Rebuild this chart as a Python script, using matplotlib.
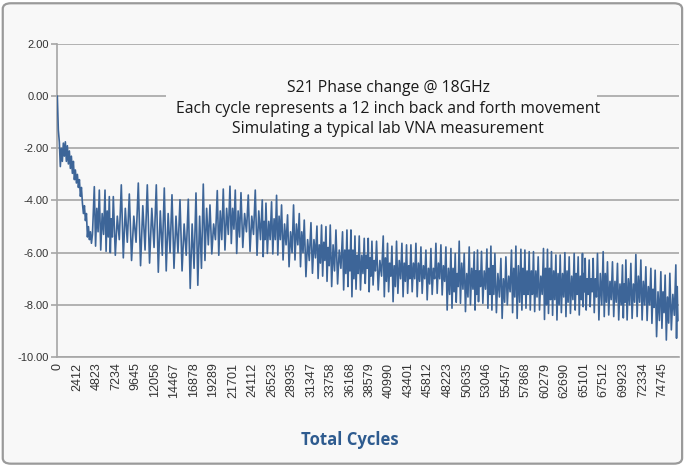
import numpy as np
import matplotlib
matplotlib.use("Agg")
import matplotlib.pyplot as plt
from matplotlib.patches import FancyBboxPatch, Rectangle
import matplotlib.transforms as mtransforms

plt.rcParams['axes.unicode_minus'] = False

# start-up drift, one value per early_step cycles
early_step = 124
early = [0.0, -1.3, -1.75, -2.7, -2.0, -2.5, -1.8, -2.3, -1.75, -2.5, -1.9, -2.6,
         -2.1, -2.77, -2.3, -2.96, -2.5, -3.2, -2.83, -3.33, -3.0, -3.5, -3.2, -3.84,
         -3.5, -4.1, -4.5, -4.2, -4.77, -4.5, -5.4, -5.0, -5.5, -5.2, -5.64, -5.3]

# cycle count at each spike top
peak_cycles = [4570, 5187, 5891, 6422, 6916, 7904, 8892, 10004, 11115, 12227,
               13215, 14165, 15153, 16179, 17129, 18031, 18858, 19760, 20501, 21328,
               21983, 22687, 23589, 24453, 25318,
               25774, 26466, 27084, 27701, 28442, 29183, 29887, 30505, 31332, 32073,
               32641, 33185, 33716, 34420, 35235, 35778, 36272, 36766, 37297, 37915, 38408,
               38865, 39434, 40261, 40792, 41335, 41904, 42570, 43139, 43682, 44300,
               44917, 45535, 46152, 46769, 47387, 48004, 48622, 49153, 49647, 50265,
               50882, 51500, 51907,
               52401, 53068, 53562, 54056, 54797, 55414, 56106, 56649, 57267, 57761,
               58292, 58823, 59404, 60058, 60552, 61046, 61590, 62121, 62701, 63232,
               63850, 64344, 64875,
               65208, 65702, 66196, 66727, 67431, 67962, 68580, 69197, 69815, 70235,
               70852, 71470, 72087, 72704, 73322, 73853, 74557, 75088, 75668, 76409]
end_cycle = 76750

peaks = [-3.47, -3.6, -3.6, -3.85, -3.85, -3.4, -3.75, -3.33, -3.4, -3.4,
         -3.52, -3.78, -3.97, -3.95, -3.71, -3.37, -4.17, -3.62, -3.56, -3.45,
         -3.6, -3.7, -3.79, -3.6, -3.98,
         -4.1, -4.05, -3.8, -4.17, -4.55, -4.17, -4.5, -4.75, -4.85, -4.98,
         -4.94, -5.0, -4.94, -5.13, -5.2, -5.13, -5.13, -5.36, -5.36, -5.45, -5.45,
         -5.56, -5.56, -5.36, -5.64, -5.75, -5.56, -5.64, -5.7, -5.7, -5.64,
         -5.78, -5.9, -5.84, -5.64, -5.7, -5.78, -5.84, -6.03, -5.56, -6.03,
         -5.78, -5.97, -5.9,
         -5.95, -5.86, -5.75, -6.03, -6.22, -6.16, -5.9, -5.75, -5.87, -5.9,
         -5.96, -5.96, -6.16, -5.84, -5.87, -5.96, -6.09, -6.09, -6.0, -6.16,
         -6.03, -6.16, -6.03,
         -6.22, -6.28, -6.22, -6.03, -5.96, -6.35, -6.35, -6.41, -6.47, -6.28,
         -6.41, -6.07, -6.28, -6.54, -6.6, -6.67, -6.73, -6.86, -6.79, -6.47]

troughs = [-5.75, -5.9, -5.95, -6.0, -6.1, -6.2, -6.3, -6.5, -6.4, -6.75,
           -6.7, -6.6, -6.7, -7.37, -7.25, -6.3, -6.05, -6.1, -5.9, -5.65,
           -6.03, -5.8, -5.95, -6.1, -6.15,
           -6.03, -6.05, -6.09, -6.28, -6.54, -6.28, -6.54, -6.92, -6.79, -6.99,
           -6.9, -7.1, -7.3, -7.2, -7.43, -7.3, -7.69, -7.4, -7.43, -7.18, -7.5,
           -7.24, -7.43, -7.69, -7.5, -7.88, -7.56, -7.69, -7.56, -7.5, -7.69,
           -7.56, -7.81, -7.6, -7.56, -7.62, -8.2, -8.13, -7.9, -7.94, -8.26,
           -8.0, -8.2, -7.88,
           -7.94, -8.13, -8.2, -8.3, -8.52, -8.0, -8.3, -8.52, -8.2, -8.13,
           -8.2, -8.26, -8.2, -8.56, -8.33, -8.4, -8.58, -8.3, -8.45, -8.33,
           -8.2, -8.39, -8.07,
           -8.2, -8.07, -8.3, -8.58, -8.45, -8.39, -8.45, -8.58, -8.5, -8.58,
           -8.52, -8.45, -8.58, -8.6, -8.71, -9.22, -8.9, -9.35, -8.96, -9.28]

# smaller second swing between two spikes (its top and bottom)
mids = [-4.3, -4.5, -4.4, -4.7, -4.6, -4.3, -4.6, -4.2, -4.3, -4.4,
        -4.5, -4.6, -4.9, -4.9, -4.6, -4.3, -4.9, -4.4, -4.3, -4.3,
        -4.4, -4.5, -4.6, -4.4, -4.8,
        -4.8, -4.7, -4.6, -4.9, -5.2, -4.9, -5.2, -5.5, -5.5, -5.7,
        -5.6, -5.8, -5.7, -5.9, -5.9, -5.9, -5.9, -6.1, -6.1, -6.1, -6.2,
        -6.3, -6.3, -6.2, -6.4, -6.5, -6.3, -6.4, -6.5, -6.4, -6.4,
        -6.5, -6.6, -6.6, -6.4, -6.5, -6.6, -6.6, -6.8, -6.4, -6.8,
        -6.6, -6.7, -6.7,
        -6.7, -6.6, -6.5, -6.8, -7.0, -6.9, -6.6, -6.5, -6.6, -6.7,
        -6.7, -6.7, -6.9, -6.6, -6.6, -6.7, -6.8, -6.8, -6.7, -6.9,
        -6.8, -6.9, -6.8,
        -7.0, -7.0, -7.0, -6.8, -6.8, -7.1, -7.1, -7.2, -7.2, -7.0,
        -7.2, -6.9, -7.1, -7.3, -7.4, -7.5, -7.5, -7.7, -7.6, -7.3]

lows = [-5.2, -5.3, -5.4, -5.4, -5.5, -5.6, -5.6, -5.9, -5.8, -6.1,
        -6.0, -6.0, -6.1, -6.6, -6.6, -5.7, -5.5, -5.5, -5.3, -5.1,
        -5.4, -5.2, -5.3, -5.5, -5.5,
        -5.5, -5.5, -5.5, -5.7, -6.0, -5.7, -6.0, -6.3, -6.2, -6.4,
        -6.3, -6.5, -6.7, -6.6, -6.8, -6.7, -7.0, -6.8, -6.8, -6.6, -6.9,
        -6.7, -6.9, -7.1, -6.9, -7.3, -7.0, -7.1, -7.0, -7.0, -7.1,
        -7.0, -7.2, -7.0, -7.0, -7.1, -7.6, -7.5, -7.3, -7.4, -7.7,
        -7.4, -7.6, -7.3,
        -7.4, -7.6, -7.6, -7.7, -7.9, -7.5, -7.7, -7.9, -7.6, -7.6,
        -7.6, -7.7, -7.6, -8.0, -7.8, -7.8, -8.0, -7.7, -7.9, -7.8,
        -7.6, -7.8, -7.5,
        -7.6, -7.5, -7.7, -8.0, -7.9, -7.8, -7.9, -8.0, -7.9, -8.0,
        -7.9, -7.9, -8.0, -8.0, -8.1, -8.6, -8.3, -8.7, -8.4, -8.6]

tick_labels = ["0", "2412", "4823", "7234", "9645", "12056", "14467", "16878",
               "19289", "21701", "24112", "26523", "28935", "31347", "33758", "36168",
               "38579", "40990", "43401", "45812", "48223", "50635", "53046", "55457",
               "57868", "60279", "62690", "65101", "67512", "69923", "72334", "74745"]

title_lines = "S21 Phase change @ 18GHz\nEach cycle represents a 12 inch back and forth movement\nSimulating a typical lab VNA measurement"

# build the series: peak, trough, second top, second bottom, next peak
pc = np.array(peak_cycles, dtype=float)
gaps = np.diff(np.append(pc, end_cycle))
spike_x = np.column_stack([pc, pc + 0.25 * gaps, pc + 0.5 * gaps, pc + 0.75 * gaps]).ravel()
spike_y = np.column_stack([peaks, troughs, mids, lows]).ravel()
xs = np.concatenate([np.arange(len(early)) * early_step, spike_x])
ys = np.concatenate([early, spike_y])

bg = "#f8f8f8"
grid_c = "#a6a6a6"

fig = plt.figure(figsize=(6.89, 4.66), dpi=100)
fig.patch.set_facecolor("white")
frame = FancyBboxPatch((0.004, 0.005), 0.986, 0.988,
                       boxstyle="round,pad=0,rounding_size=0.012",
                       transform=fig.transFigure, facecolor=bg,
                       edgecolor="#9a9a9a", linewidth=1.6, zorder=-5)
fig.patches.append(frame)

ax = fig.add_axes([0.0832, 0.2339, 0.9023, 0.6717])
ax.set_zorder(2)
ax.set_facecolor(bg)
ax.plot(xs, ys, color="#3d6598", linewidth=1.2, zorder=3)

ax.set_xlim(0, 76800)
ax.set_ylim(-10, 2)
ax.set_yticks(np.arange(-10, 2.01, 2))
ax.yaxis.set_major_formatter(matplotlib.ticker.FormatStrFormatter("%.2f"))
ax.set_xticks([int(t) for t in tick_labels])
ax.set_xticklabels(tick_labels, rotation=90, fontsize=9,
                   family="Liberation Sans", color="#333333")
for lbl in ax.get_yticklabels():
    lbl.set_fontsize(8)
    lbl.set_family("Liberation Sans")
    lbl.set_color("#333333")

ax.grid(axis="y", color=grid_c, linewidth=1.2, zorder=1)
ax.tick_params(axis="y", length=4, width=1.2, color=grid_c, pad=2)
ax.tick_params(axis="x", length=0, pad=4)
for side in ["top", "right"]:
    ax.spines[side].set_visible(False)
ax.spines["left"].set_color(grid_c)
ax.spines["left"].set_linewidth(1.2)
ax.spines["bottom"].set_color(grid_c)
ax.spines["bottom"].set_linewidth(1.2)

# text box hides the 0.00 gridline behind the note
trans = mtransforms.blended_transform_factory(ax.transAxes, ax.transData)
ax.add_patch(Rectangle((0.175, -0.9), 0.693, 2.0, transform=trans,
                       facecolor=bg, edgecolor="none", zorder=2))
ax.text(0.532, 0.793, title_lines, transform=ax.transAxes, ha="center", va="center",
        fontsize=11.3, family="Open Sans", color="#1a1a1a", linespacing=1.38, zorder=4)

ax.set_xlabel("Total Cycles", fontsize=12, fontweight="bold",
              family="Open Sans", color="#2e5b8f")
ax.xaxis.set_label_coords(0.471, -0.237)

fig.savefig("out.png", dpi=100, facecolor=fig.get_facecolor())
